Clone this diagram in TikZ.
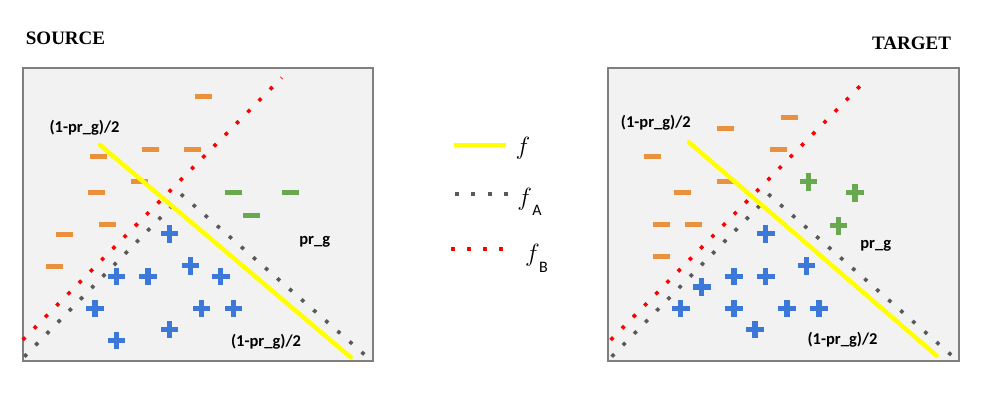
\documentclass[tikz,border=0pt]{standalone}
\usepackage{fontspec}
\setmainfont{Liberation Serif}
\newfontfamily\lblfont{Carlito}
\usepackage{amsmath}

\definecolor{panelgray}{HTML}{F2F2F2}
\definecolor{bordergray}{HTML}{7F7F7F}
\definecolor{fyellow}{HTML}{FFFF00}
\definecolor{agray}{HTML}{595959}
\definecolor{bred}{HTML}{FF0000}
\definecolor{negorange}{HTML}{E9913C}
\definecolor{posblue}{HTML}{3C78D8}
\definecolor{posgreen}{HTML}{6AA84F}

\tikzset{cross/.pic={
  \fill[#1] (-8.8,-2.7) rectangle (8.8,2.7);
  \fill[#1] (-2.7,-8.8) rectangle (2.7,8.8);
}}

\begin{document}
\begin{tikzpicture}[x=1pt,y=-1pt]
\tikzstyle{every node}=[inner sep=0pt]
\tikzstyle{panel}=[fill=panelgray, draw=bordergray, line width=1.2pt]
\tikzstyle{fline}=[draw=fyellow, line width=4.5pt, line cap=round]
\tikzstyle{aline}=[draw=agray, line width=3.6pt, dash pattern=on 3.6pt off 12.4pt]
\tikzstyle{bline}=[draw=bred, line width=3.6pt, dash pattern=on 3.6pt off 12.4pt]
\tikzstyle{negmark}=[fill=negorange, minimum width=17pt, minimum height=5pt]
\tikzstyle{greenneg}=[negmark, fill=posgreen]
\tikzstyle{title}=[font=\fontsize{19pt}{22pt}\selectfont\bfseries]
\tikzstyle{ratio}=[font=\lblfont\bfseries\fontsize{16.5pt}{19pt}\selectfont]
\tikzstyle{fname}=[font=\fontsize{24pt}{27pt}\selectfont]
\tikzstyle{fsub}=[font=\lblfont\fontsize{16pt}{18pt}\selectfont]
\useasboundingbox (0,0) rectangle (1004,396);

% SOURCE panel
\node [title] (srctitle) at (65.5,38.8) {SOURCE};
\draw [panel] (23,68) rectangle (373,361);
\coordinate (sB1) at (22.7,340);
\coordinate (sB2) at (281.7,77.7);
\coordinate (sA1) at (24.3,356.7);
\coordinate (sA2) at (182.3,195.3);
\coordinate (sA3) at (370.7,360);
\coordinate (sF1) at (100,145);
\coordinate (sF2) at (350.7,357.3);
\draw [bline] (sB1) -- (sB2);
\draw [aline] (sA1) -- (sA2) -- (sA3);
\node [negmark] (sn1) at (203.3,96.3) {};
\node [negmark] (sn2) at (98.3,156) {};
\node [negmark] (sn3) at (150,149.3) {};
\node [negmark] (sn4) at (192.7,149.3) {};
\node [negmark] (sn5) at (139.3,181.7) {};
\node [negmark] (sn6) at (96.7,192) {};
\node [negmark] (sn7) at (107.3,224) {};
\node [negmark] (sn8) at (64.7,234.7) {};
\node [negmark] (sn9) at (54,266.7) {};
\node [greenneg] (sg1) at (233.3,192.7) {};
\node [greenneg] (sg2) at (290.7,192.7) {};
\node [greenneg] (sg3) at (251.3,215) {};
\pic at (169.3,233.7) {cross=posblue};
\pic at (190.3,265.7) {cross=posblue};
\pic at (116.3,276.3) {cross=posblue};
\pic at (148,276.3) {cross=posblue};
\pic at (220.7,276.3) {cross=posblue};
\pic at (95,308.3) {cross=posblue};
\pic at (201.3,308.3) {cross=posblue};
\pic at (233.3,308.3) {cross=posblue};
\pic at (169.3,329.3) {cross=posblue};
\pic at (116.3,340.3) {cross=posblue};
\draw [fline] (sF1) -- (sF2);
\node [ratio] (sratiotop) at (84.5,127.5) {(1-pr\_g)/2};
\node [ratio] (sprg) at (314.7,241.5) {pr\_g};
\node [ratio] (sratiobot) at (266,341.7) {(1-pr\_g)/2};

% legend
\coordinate (lF1) at (454,145);
\coordinate (lF2) at (506,145);
\coordinate (lA1) at (454.9,194.3);
\coordinate (lA2) at (508,194.3);
\coordinate (lB1) at (450.9,249.3);
\coordinate (lB2) at (503,249.3);
\draw [fline, line cap=butt] (lF1) -- (lF2);
\draw [aline, line width=4pt, dash pattern=on 4pt off 12.4pt] (lA1) -- (lA2);
\draw [bline, line width=4pt, dash pattern=on 4pt off 12.1pt] (lB1) -- (lB2);
\node [fname] (fmain) at (523,148.3) {$f$};
\node [fname] (fa) at (524.8,199) {$f$};
\node [fsub] (fasub) at (537,210.3) {A};
\node [fname] (fb) at (532.5,254.8) {$f$};
\node [fsub] (fbsub) at (543.4,267) {B};

% TARGET panel
\node [title] (tgttitle) at (911.5,43.7) {TARGET};
\draw [panel] (608,68) rectangle (959,361);
\coordinate (tB1) at (610.7,340);
\coordinate (tB2) at (868.3,77.7);
\coordinate (tA1) at (611.7,356.7);
\coordinate (tA2) at (769.7,195.3);
\coordinate (tA3) at (957.7,360.7);
\coordinate (tF1) at (689,142.3);
\coordinate (tF2) at (936.7,355.7);
\draw [bline] (tB1) -- (tB2);
\draw [aline] (tA1) -- (tA2) -- (tA3);
\node [negmark] (tn1) at (789,117.7) {};
\node [negmark] (tn2) at (725,128.3) {};
\node [negmark] (tn3) at (652,156) {};
\node [negmark] (tn4) at (778.3,149.7) {};
\node [negmark] (tn5) at (725,181.7) {};
\node [negmark] (tn6) at (682.7,192) {};
\node [negmark] (tn7) at (661,224) {};
\node [negmark] (tn8) at (693,224) {};
\node [negmark] (tn9) at (661,256) {};
\pic at (808.3,181.7) {cross=posgreen};
\pic at (855,192.7) {cross=posgreen};
\pic at (838.3,225.7) {cross=posgreen};
\pic at (765.7,233.7) {cross=posblue};
\pic at (806.3,265.7) {cross=posblue};
\pic at (701.7,287) {cross=posblue};
\pic at (734,276.3) {cross=posblue};
\pic at (765.7,276.3) {cross=posblue};
\pic at (680.7,308.3) {cross=posblue};
\pic at (734,308.3) {cross=posblue};
\pic at (787,308.3) {cross=posblue};
\pic at (819,308.3) {cross=posblue};
\pic at (755,329.3) {cross=posblue};
\draw [fline] (tF1) -- (tF2);
\node [ratio] (tratiotop) at (655.8,123) {(1-pr\_g)/2};
\node [ratio] (tprg) at (875.7,245.8) {pr\_g};
\node [ratio] (tratiobot) at (842.5,340) {(1-pr\_g)/2};
\end{tikzpicture}
\end{document}
